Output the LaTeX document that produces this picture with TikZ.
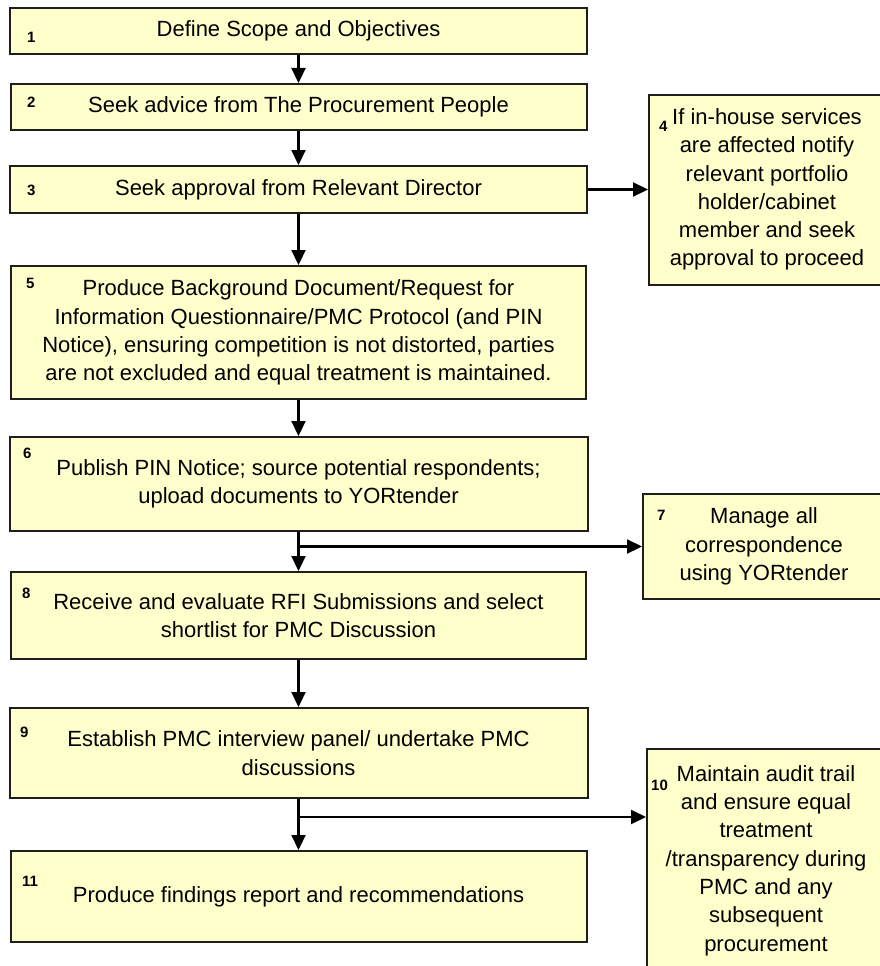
\documentclass[tikz,border=0pt]{standalone}
\usepackage{fontspec}
\setmainfont{Liberation Sans}
\usepackage{tikz}
\usetikzlibrary{arrows.meta}
\definecolor{boxyellow}{RGB}{255,255,204}
\definecolor{boxline}{RGB}{30,30,30}

\begin{document}
\begin{tikzpicture}[x=1pt, y=-1pt,
  >={Triangle[length=15pt,width=14pt]},
  stepbox/.style={draw=boxline, line width=2pt, fill=boxyellow, align=center, inner sep=0pt, font=\fontsize{22}{28.3}\selectfont},
  numlabel/.style={anchor=base west, inner sep=0pt, font=\fontsize{15}{15}\selectfont\bfseries},
  link/.style={->, line width=2.2pt, draw=black}]
 \useasboundingbox (0,0) rectangle (880,966);

 % main column
 \node[stepbox, minimum width=577pt, minimum height=46pt] (scope) at (298.5,31) {Define Scope and Objectives};
 \node[stepbox, minimum width=576pt, minimum height=46pt] (advice) at (298.5,107) {Seek advice from The Procurement People};
 \node[stepbox, minimum width=577pt, minimum height=47pt] (approval) at (298.5,189.5) {Seek approval from Relevant Director};
 \node[stepbox, minimum width=575pt, minimum height=133pt] (background) at (298.5,332.5)
  {Produce Background Document/Request for\\ Information Questionnaire/PMC Protocol (and PIN\\ Notice), ensuring competition is not distorted, parties\\ are not excluded and equal treatment is maintained.};
 \node[stepbox, minimum width=578pt, minimum height=94pt] (publish) at (298.5,484)
  {Publish PIN Notice; source potential respondents;\\ upload documents to YORtender};
 \node[stepbox, minimum width=575pt, minimum height=87pt] (evaluate) at (298.5,615.5)
  {Receive and evaluate RFI Submissions and select\\ shortlist for PMC Discussion};
 \node[stepbox, minimum width=578pt, minimum height=90pt] (panel) at (298.5,753)
  {Establish PMC interview panel/ undertake PMC\\ discussions};
 \node[stepbox, minimum width=576pt, minimum height=91pt] (findings) at (298.5,896.5)
  {Produce findings report and recommendations};

 % side boxes
 \node[stepbox, minimum width=236pt, minimum height=190pt] (inhouse) at (767,189.5)
  {If in-house services\\ are affected notify\\ relevant portfolio\\ holder/cabinet\\ member and seek\\ approval to proceed};
 \node[stepbox, minimum width=242pt, minimum height=105pt] (corresp) at (764,546.5)
  {Manage all\\ correspondence\\ using YORtender};
 \node[stepbox, minimum width=238pt, minimum height=223pt] (audit) at (766,860.5)
  {Maintain audit trail\\ and ensure equal\\ treatment\\ /transparency during\\ PMC and any\\ subsequent\\ procurement};

 % step numbers
 \node[numlabel] (n1) at (27,43) {1};
 \node[numlabel] (n2) at (27,107) {2};
 \node[numlabel] (n3) at (27,195) {3};
 \node[numlabel] (n4) at (659,131) {4};
 \node[numlabel] (n5) at (26,288) {5};
 \node[numlabel] (n6) at (23,458) {6};
 \node[numlabel] (n7) at (657,520) {7};
 \node[numlabel] (n8) at (22,598) {8};
 \node[numlabel] (n9) at (20,737) {9};
 \node[numlabel] (n10) at (651,790) {10};
 \node[numlabel] (n11) at (22,886) {11};

 \coordinate (fork7) at (publish.south |- corresp.west);
 \coordinate (fork10) at ([yshift=-18pt]panel.south);

 \path[link]
  (scope) edge (advice)
  (advice) edge (approval)
  (approval) edge (inhouse)
  (approval) edge (background)
  (background) edge (publish)
  (publish) edge (evaluate)
  (evaluate) edge (panel)
  (panel) edge (findings);
 \draw[link] (fork7) -- (corresp.west);
 \draw[link] (fork10) -- (fork10 -| audit.west);
\end{tikzpicture}
\end{document}
